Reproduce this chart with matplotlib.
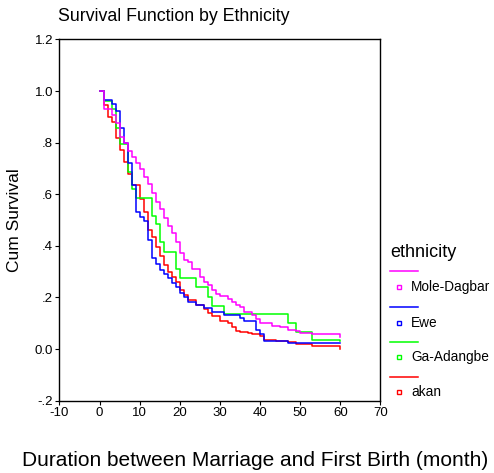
import matplotlib.pyplot as plt
from matplotlib.lines import Line2D

plt.rcParams['font.family'] = ['Liberation Sans', 'DejaVu Sans']
plt.rcParams['axes.unicode_minus'] = False

# Kaplan-Meier steps (time in months, cum survival)
groups = ["Mole-Dagbar", "Ewe", "Ga-Adangbe", "akan"]
colors = ["#ff00ff", "#0000ff", "#00ff00", "#ff0000"]

mole_t = [0, 1, 3, 4, 5, 6, 7, 8, 9, 10, 11, 12, 13, 14, 15, 16, 17, 18, 19, 20,
          21, 22, 23, 25, 26, 27, 28, 29, 30, 32, 33, 34, 35, 36, 38, 39, 40, 41,
          43, 45, 47, 49, 50, 53, 60]
mole_s = [1.0, 0.929, 0.907, 0.875, 0.823, 0.797, 0.769, 0.746, 0.720, 0.697,
          0.668, 0.640, 0.606, 0.571, 0.542, 0.507, 0.478, 0.449, 0.414, 0.374,
          0.345, 0.338, 0.309, 0.280, 0.261, 0.248, 0.229, 0.213, 0.205, 0.196,
          0.183, 0.171, 0.162, 0.145, 0.132, 0.115, 0.102, 0.100, 0.089, 0.084,
          0.074, 0.070, 0.063, 0.058, 0.045]

ewe_t = [0, 1, 3, 4, 5, 6, 7, 8, 9, 10, 11, 12, 13, 14, 15, 16, 17, 18, 19, 20,
         21, 22, 24, 26, 28, 31, 35, 36, 39, 40, 41, 47, 60]
ewe_s = [1.0, 0.965, 0.949, 0.923, 0.856, 0.797, 0.72, 0.636, 0.532, 0.511,
         0.498, 0.423, 0.352, 0.330, 0.306, 0.291, 0.274, 0.257, 0.240, 0.218,
         0.200, 0.183, 0.170, 0.158, 0.145, 0.132, 0.120, 0.108, 0.074, 0.058,
         0.032, 0.025, 0.025]

ga_t = [0, 1, 3, 4, 5, 7, 8, 9, 13, 14, 15, 16, 19, 20, 24, 27, 28, 31, 47, 49,
        53, 60]
ga_s = [1.0, 0.963, 0.929, 0.856, 0.795, 0.688, 0.619, 0.584, 0.516, 0.483,
        0.416, 0.377, 0.309, 0.274, 0.239, 0.203, 0.167, 0.136, 0.102, 0.067,
        0.035, 0.030]

akan_t = [0, 1, 2, 3, 4, 5, 6, 7, 8, 10, 11, 12, 13, 14, 15, 16, 17, 18, 19, 20,
          21, 22, 24, 26, 27, 28, 30, 32, 33, 34, 35, 37, 38, 40, 41, 44, 47, 49,
          53, 60]
akan_s = [1.0, 0.946, 0.90, 0.88, 0.82, 0.77, 0.725, 0.68, 0.636, 0.58, 0.532,
          0.461, 0.436, 0.394, 0.36, 0.326, 0.300, 0.280, 0.261, 0.230, 0.210,
          0.190, 0.170, 0.155, 0.139, 0.128, 0.110, 0.100, 0.087, 0.071, 0.067,
          0.063, 0.058, 0.050, 0.035, 0.031, 0.027, 0.019, 0.013, 0.0]

series = [(mole_t, mole_s), (ewe_t, ewe_s), (ga_t, ga_s), (akan_t, akan_s)]

x_ticks = [-10, 0, 10, 20, 30, 40, 50, 60, 70]
y_ticks = [-0.2, 0.0, 0.2, 0.4, 0.6, 0.8, 1.0, 1.2]
y_labels = ["-.2", "0.0", ".2", ".4", ".6", ".8", "1.0", "1.2"]

fig = plt.figure(figsize=(4.94, 4.73), dpi=100)
ax = fig.add_axes([0.1204, 0.1529, 0.6498, 0.7636])

# draw akan first so magenta ends on top like the original
for (t, s), c in list(zip(series, colors))[::-1]:
    ax.step(t, s, where="post", color=c, lw=1.1)

ax.set_xlim(-10, 70)
ax.set_ylim(-0.2, 1.2)
ax.set_xticks(x_ticks)
ax.set_yticks(y_ticks)
ax.set_yticklabels(y_labels)
ax.tick_params(direction="out", length=3, width=0.8, labelsize=9.5, pad=1.5)
for sp in ax.spines.values():
    sp.set_linewidth(1.0)

fig.text(58 / 494, 0.966, "Survival Function by Ethnicity", fontsize=12.8,
         ha="left", va="center")
ax.set_ylabel("Cum Survival", fontsize=12.5, labelpad=9)
fig.text(0.516, 0.027, "Duration between Marriage and First Birth (month)",
         fontsize=15, ha="center", va="center")

# legend drawn by hand: line, then small square + label
W, H = 494, 473
fig.text(390 / W, 1 - 252 / H, "ethnicity", fontsize=13, ha="left", va="center")
line_y = [271, 307, 342, 377]
mark_y = [287, 323, 357, 392]
for g, c, ly, my in zip(groups, colors, line_y, mark_y):
    fig.add_artist(Line2D([390 / W, 418 / W], [1 - ly / H, 1 - ly / H],
                          color=c, lw=1.1))
    fig.add_artist(Line2D([399 / W], [1 - my / H], marker="s", ms=3.5,
                          mfc="white", mec=c, mew=1.0, ls="none"))
    fig.text(411 / W, 1 - my / H, g, fontsize=9.8, ha="left", va="center")

fig.savefig("out.png", dpi=100)
